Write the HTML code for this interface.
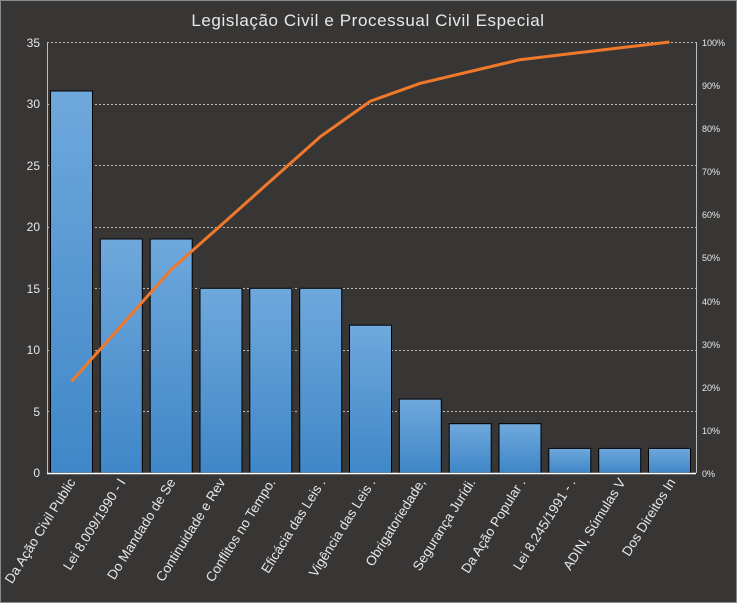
<!DOCTYPE html>
<html><head><meta charset="utf-8"><style>
html,body{margin:0;padding:0;background:#383635;}
svg{display:block;font-family:"Liberation Sans","DejaVu Sans",sans-serif;}
</style></head><body>
<svg width="737" height="603" viewBox="0 0 737 603" xmlns="http://www.w3.org/2000/svg">
<defs>
<linearGradient id="g" x1="0" y1="0" x2="0" y2="1">
<stop offset="0" stop-color="#6fa8dc"/><stop offset="1" stop-color="#3f87c8"/>
</linearGradient>
</defs>
<rect x="0.5" y="0.5" width="736" height="602" fill="#383635" stroke="#8a8a8a"/>
<text x="368" y="26" text-anchor="middle" fill="#e8e8e8" font-size="17" letter-spacing="0.6">Legislação Civil e Processual Civil Especial</text>
<g stroke="#bdbdbd" stroke-width="1" stroke-dasharray="2,2">
<line x1="47" x2="696" y1="42.5" y2="42.5"/>
<line x1="47" x2="696" y1="104.5" y2="104.5"/>
<line x1="47" x2="696" y1="165.5" y2="165.5"/>
<line x1="47" x2="696" y1="227.5" y2="227.5"/>
<line x1="47" x2="696" y1="288.5" y2="288.5"/>
<line x1="47" x2="696" y1="350.5" y2="350.5"/>
<line x1="47" x2="696" y1="411.5" y2="411.5"/>
</g>
<line x1="47.5" y1="42" x2="47.5" y2="473" stroke="#bdbdbd"/>
<line x1="696.5" y1="42" x2="696.5" y2="473" stroke="#bdbdbd"/>
<g fill="#e8e8e8" font-size="12" text-anchor="end">
<text x="40" y="47">35</text><text x="40" y="108">30</text><text x="40" y="170">25</text>
<text x="40" y="231">20</text><text x="40" y="293">15</text><text x="40" y="354">10</text>
<text x="40" y="416">5</text><text x="40" y="477">0</text>
</g>
<g fill="#e8e8e8" font-size="9">
<text x="702" y="46">100%</text><text x="702" y="89">90%</text><text x="702" y="132">80%</text>
<text x="702" y="175">70%</text><text x="702" y="218">60%</text><text x="702" y="261">50%</text>
<text x="702" y="305">40%</text><text x="702" y="348">30%</text><text x="702" y="391">20%</text>
<text x="702" y="434">10%</text><text x="702" y="477">0%</text>
</g>
<g fill="url(#g)" stroke="#000" stroke-width="1">
<rect x="50.5" y="91" width="42" height="382"/>
<rect x="100.3" y="239" width="42" height="234"/>
<rect x="150.2" y="239" width="42" height="234"/>
<rect x="200" y="288.3" width="42" height="184.7"/>
<rect x="249.8" y="288.3" width="42" height="184.7"/>
<rect x="299.7" y="288.3" width="42" height="184.7"/>
<rect x="349.5" y="325.2" width="42" height="147.8"/>
<rect x="399.3" y="399.1" width="42" height="73.9"/>
<rect x="449.2" y="423.7" width="42" height="49.3"/>
<rect x="499" y="423.7" width="42" height="49.3"/>
<rect x="548.8" y="448.4" width="42" height="24.6"/>
<rect x="598.7" y="448.4" width="42" height="24.6"/>
<rect x="648.5" y="448.4" width="42" height="24.6"/>
</g>
<line x1="47" y1="473.5" x2="696" y2="473.5" stroke="#ffffff" stroke-width="1.5"/>
<polyline fill="none" stroke="#f0782a" stroke-width="3" stroke-linejoin="round" points="71.5,381.5 121.3,325.6 171.2,269.5 221,225.2 270.8,180.8 320.7,136.4 370.5,101.1 420.3,83.3 470.2,71.5 520,59.7 569.8,53.8 619.7,47.9 669.5,42"/>
<g fill="#e8e8e8" font-size="13.5" text-anchor="end">
<text transform="translate(76,482) rotate(-58)">Da Ação Civil Public</text>
<text transform="translate(126,482) rotate(-58)">Lei 8.009/1990 - I</text>
<text transform="translate(176,482) rotate(-58)">Do Mandado de Se</text>
<text transform="translate(226,482) rotate(-58)">Continuidade e Rev</text>
<text transform="translate(276,482) rotate(-58)">Conflitos no Tempo.</text>
<text transform="translate(326,482) rotate(-58)">Eficácia das Leis .</text>
<text transform="translate(376,482) rotate(-58)">Vigência das Leis .</text>
<text transform="translate(426,482) rotate(-58)">Obrigatoriedade,</text>
<text transform="translate(476,482) rotate(-58)">Segurança Jurídi.</text>
<text transform="translate(526,482) rotate(-58)">Da Ação Popular .</text>
<text transform="translate(576,482) rotate(-58)">Lei 8.245/1991 - .</text>
<text transform="translate(626,482) rotate(-58)">ADIN, Súmulas V</text>
<text transform="translate(676,482) rotate(-58)">Dos Direitos In</text>
</g>
</svg>
</body></html>
